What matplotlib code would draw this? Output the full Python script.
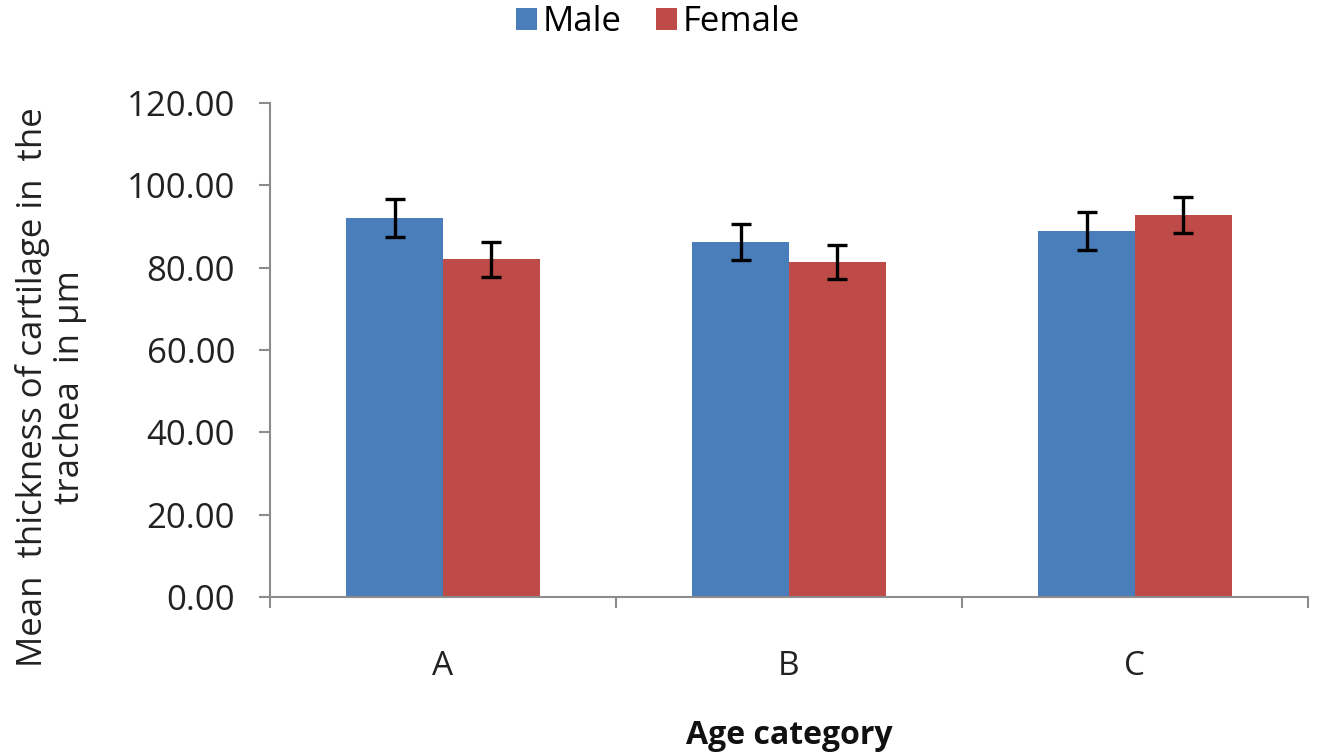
import numpy as np
import matplotlib
matplotlib.use('Agg')
import matplotlib.pyplot as plt

categories = ['A', 'B', 'C']
male = [92.0, 86.2, 89.0]
female = [82.0, 81.3, 92.8]
male_err = [4.6, 4.3, 4.6]
female_err = [4.2, 4.1, 4.4]

plt.rcParams['font.family'] = ['Open Sans', 'DejaVu Sans']

fig = plt.figure(figsize=(13.2, 7.55), dpi=100)
ax = fig.add_axes([0.2045, 0.2093, 0.7864, 0.6543])

x = np.arange(len(categories))
width = 0.28
err_kw = dict(ecolor='black', elinewidth=2.4, capsize=7, capthick=2.4)
ax.bar(x - width / 2, male, width, yerr=male_err, color='#4a7ebb', label='Male', error_kw=err_kw)
ax.bar(x + width / 2, female, width, yerr=female_err, color='#be4b48', label='Female', error_kw=err_kw)

ax.set_xlim(-0.5, len(categories) - 0.5)
ax.set_ylim(0, 120)
ticks = np.arange(0, 121, 20)
ax.set_yticks(ticks)
ax.set_yticklabels([f'{v:.2f}' for v in ticks], fontsize=25, color='#222222')
ax.set_xticks(x)
ax.set_xticklabels(categories, fontsize=24, color='#222222')
ax.set_xticks(np.arange(-0.5, len(categories), 1), minor=True)
ax.tick_params(axis='x', which='major', length=0, pad=38)
ax.tick_params(axis='x', which='minor', length=8, width=1.5, color='#8c8c8c')
ax.tick_params(axis='y', length=8, width=1.5, color='#8c8c8c', pad=17)

for side in ['top', 'right']:
    ax.spines[side].set_visible(False)
for side in ['left', 'bottom']:
    ax.spines[side].set_color('#8c8c8c')
    ax.spines[side].set_linewidth(1.5)

# axis titles placed in figure coords, as in the reference they are off-centre
fig.text(51 / 1320, 1 - 387 / 755, 'Mean  thickness of cartilage in  the\ntrachea  in µm',
         rotation=90, ha='center', va='center', multialignment='center',
         fontsize=25, color='#222222', linespacing=1.15)
fig.text(789 / 1320, 1 - 735 / 755, 'Age category', ha='center', va='center',
         fontsize=23, fontweight='bold', color='#111111')

fig.legend(loc='center', bbox_to_anchor=(658 / 1320, 1 - 22 / 755), ncol=2, frameon=False,
           fontsize=25, handlelength=0.6, handleheight=0.6, handletextpad=0.15,
           columnspacing=1.0, borderpad=0)

fig.savefig('out.png', dpi=100, facecolor='white')
